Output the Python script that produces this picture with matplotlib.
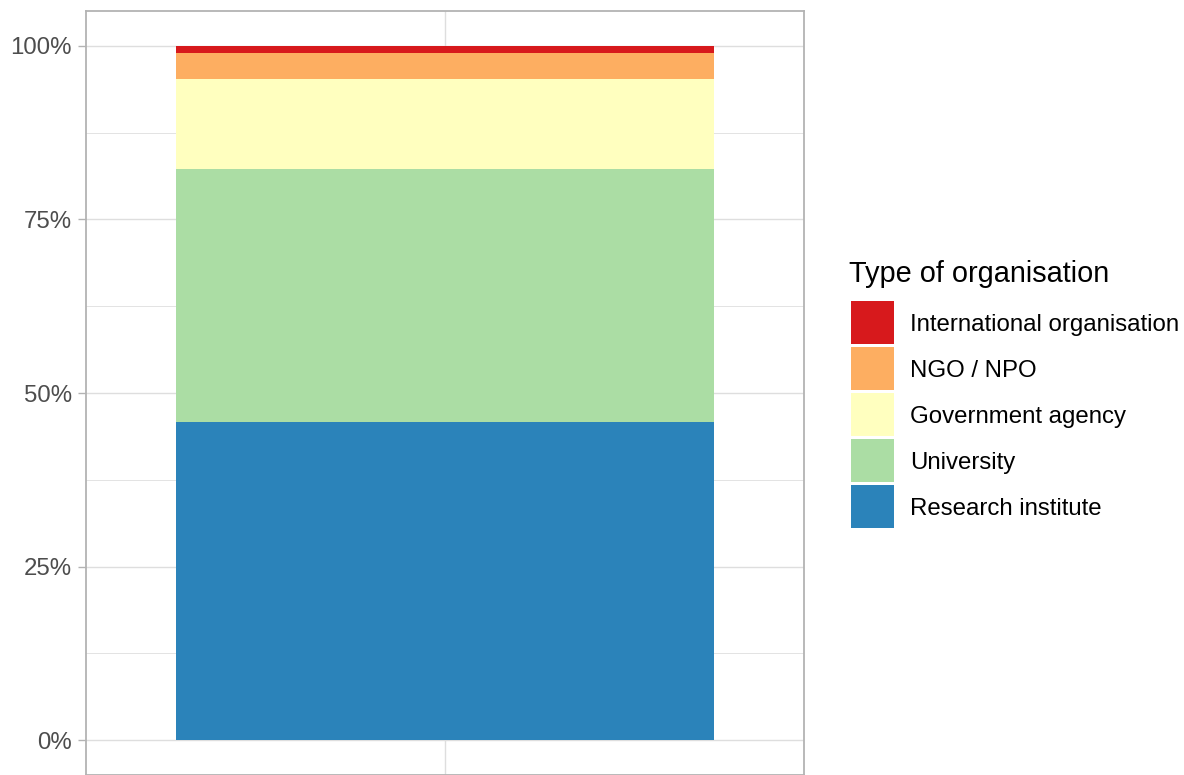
import matplotlib
matplotlib.use("Agg")
import matplotlib.pyplot as plt
from matplotlib.patches import Rectangle
from matplotlib.ticker import FixedLocator, FuncFormatter

plt.rcParams['font.family'] = ['Liberation Sans', 'DejaVu Sans']

# Data (stack order bottom -> top)
categories = ["Research institute", "University", "Government agency", "NGO / NPO", "International organisation"]
shares = [45.76, 36.55, 12.95, 3.74, 1.0]
colors = ["#2B83BA", "#ABDDA4", "#FFFFBF", "#FDAE61", "#D7191C"]
y_ticks = [0, 25, 50, 75, 100]
legend_title = "Type of organisation"

W, H = 1184, 775
fig = plt.figure(figsize=(W / 100, H / 100), dpi=100)
ax = fig.add_axes([86 / W, 0.0, (804 - 86) / W, 1 - 11 / H])

bottom = 0
for cat, val, col in zip(categories, shares, colors):
    ax.bar(1, val, width=0.9, bottom=bottom, color=col, label=cat, zorder=3, linewidth=0)
    bottom += val

ax.set_xlim(0.4, 1.6)
ax.set_ylim(-5, 105)

grid_col = "#DEDEDE"
ax.yaxis.set_major_locator(FixedLocator(y_ticks))
ax.yaxis.set_minor_locator(FixedLocator([12.5, 37.5, 62.5, 87.5]))
ax.yaxis.set_major_formatter(FuncFormatter(lambda v, p: f"{int(v)}%"))
ax.set_xticks([1])
ax.set_xticklabels([])
ax.grid(which="major", axis="both", color=grid_col, linewidth=1.0, zorder=0)
ax.grid(which="minor", axis="y", color=grid_col, linewidth=0.6, zorder=0)
ax.tick_params(axis="y", which="major", length=5.8, width=1.0, color="#B3B3B3",
               labelsize=17.3, labelcolor="#4D4D4D", pad=4.3)
ax.tick_params(axis="y", which="minor", length=0)
ax.tick_params(axis="x", length=0)
for s in ax.spines.values():
    s.set_color("#B3B3B3")
    s.set_linewidth(1.3)
ax.set_axisbelow(True)

# Legend (top entry first)
fig.text(849 / W, 1 - 282 / H, legend_title, fontsize=20.8, color="black",
         ha="left", va="baseline")
key_top = 301
for i, (cat, col) in enumerate(zip(categories[::-1], colors[::-1])):
    top = key_top + i * 46
    fig.add_artist(Rectangle((851 / W, 1 - (top + 43) / H), 43 / W, 43 / H,
                             transform=fig.transFigure, facecolor=col, edgecolor="none"))
    fig.text(910 / W, 1 - (top + 21.5) / H, cat, fontsize=17.3, color="black",
             ha="left", va="center_baseline")

fig.savefig("out.png", dpi=100)
